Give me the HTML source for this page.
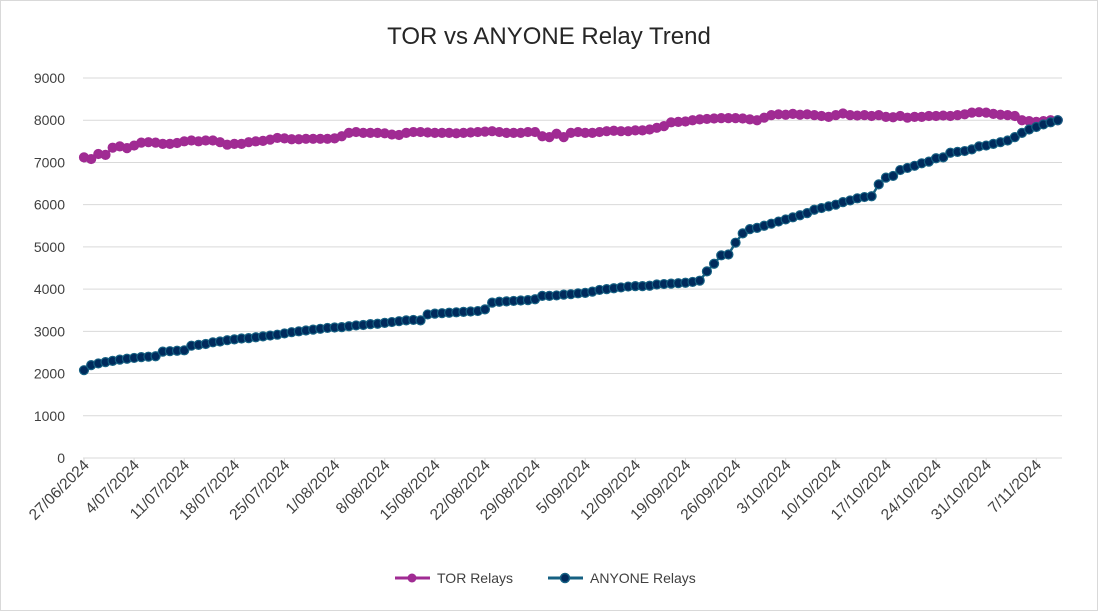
<!DOCTYPE html>
<html><head><meta charset="utf-8"><style>
body{margin:0;background:#fff;font-family:"Liberation Sans",sans-serif}
svg text{font-family:"Liberation Sans",sans-serif;fill:#404040}
</style></head><body>
<svg width="1098" height="611" id="chart">
<rect x="0.5" y="0.5" width="1097" height="610" fill="#fff" stroke="#d9d9d9"/>
<text x="549" y="44" text-anchor="middle" font-size="24" style="fill:#262626">TOR vs ANYONE Relay Trend</text>
<g id="grid"></g><g id="xaxis"></g><g id="series"></g>
<g>
<g><line x1="395" y1="578" x2="430" y2="578" stroke="#A02B93" stroke-width="3"/><circle cx="412" cy="578" r="4.5" fill="#A02B93"/><text x="437" y="583" font-size="14">TOR Relays</text></g>
<g><line x1="548" y1="578" x2="583" y2="578" stroke="#156082" stroke-width="3"/><circle cx="565" cy="578" r="4.5" fill="#002a5c" stroke="#156082" stroke-width="1.5"/><text x="590" y="583" font-size="14">ANYONE Relays</text></g>
</g>
</svg>
<script>
const yTicks=[0,1000,2000,3000,4000,5000,6000,7000,8000,9000];
const xTickLabels=["27/06/2024","4/07/2024","11/07/2024","18/07/2024","25/07/2024","1/08/2024","8/08/2024","15/08/2024","22/08/2024","29/08/2024","5/09/2024","12/09/2024","19/09/2024","26/09/2024","3/10/2024","10/10/2024","17/10/2024","24/10/2024","31/10/2024","7/11/2024"];
const anyone=[2080,2200,2240,2270,2300,2330,2350,2370,2390,2400,
2410,2520,2530,2540,2550,2660,2680,2700,2740,2760,
2790,2810,2830,2840,2860,2880,2900,2920,2950,2980,
3000,3020,3040,3060,3080,3090,3100,3120,3140,3150,
3170,3180,3200,3220,3240,3260,3270,3260,3400,3420,
3430,3440,3450,3460,3470,3480,3520,3680,3700,3710,
3720,3730,3740,3760,3840,3840,3850,3870,3880,3900,
3910,3940,3980,4000,4020,4040,4060,4070,4070,4080,
4110,4120,4130,4140,4150,4170,4200,4420,4600,4800,
4820,5100,5320,5420,5450,5500,5550,5600,5650,5700,
5750,5800,5880,5920,5960,6000,6060,6100,6150,6180,
6200,6480,6640,6680,6820,6870,6920,6980,7020,7100,
7120,7230,7250,7270,7310,7380,7400,7440,7480,7520,
7600,7700,7780,7840,7900,7950,8000];
const tor=[7120,7080,7200,7180,7350,7380,7340,7400,7470,7480,
7470,7440,7440,7460,7500,7520,7500,7520,7520,7480,
7420,7440,7440,7480,7500,7510,7540,7580,7570,7550,
7550,7560,7560,7560,7560,7570,7620,7700,7720,7700,
7700,7700,7690,7660,7650,7700,7720,7720,7710,7700,
7700,7700,7690,7700,7710,7720,7730,7740,7720,7700,
7700,7700,7720,7720,7620,7600,7680,7600,7700,7720,
7700,7700,7720,7740,7750,7740,7740,7760,7760,7780,
7820,7860,7950,7960,7970,8000,8020,8030,8040,8050,
8050,8050,8040,8020,8000,8060,8120,8140,8130,8150,
8130,8140,8120,8100,8080,8120,8160,8120,8110,8120,
8100,8120,8080,8070,8100,8060,8080,8080,8100,8100,
8110,8100,8120,8140,8180,8190,8180,8150,8130,8120,
8100,8000,7980,7960,7980,8000,8000];
const NS="http://www.w3.org/2000/svg";
const y=v=>458-v*(380/9000);
const x=d=>84+d*7.16;
function mk(tag,attrs,parent){const e=document.createElementNS(NS,tag);for(const k in attrs)e.setAttribute(k,attrs[k]);parent.appendChild(e);return e;}
const grid=document.getElementById('grid');
yTicks.forEach(t=>{
  const l=mk('line',{x1:83,x2:1062,y1:y(t),y2:y(t),stroke:'#d9d9d9','stroke-width':1},grid);
  
  
  const tx=mk('text',{x:65,y:y(t)+5,'text-anchor':'end','font-size':14},grid);
  tx.textContent=t;
  
  
});
const xa=document.getElementById('xaxis');
xTickLabels.forEach((s,i)=>{
  const px=x(i*7);
  const tk=mk('line',{x1:px,x2:px,y1:458,y2:463,stroke:'#d9d9d9'},xa);
  
  
  const tx=mk('text',{x:px+6,y:466,'text-anchor':'end','font-size':15.5,transform:`rotate(-45 ${px+6} 466)`},xa);
  tx.textContent=s;
  
  
});
const sg=document.getElementById('series');
function draw(vals,name,lineCol,fill,stroke){
  const g=mk('g',{},sg);
  
  
  const p=mk('polyline',{points:vals.map((v,i)=>x(i)+','+y(v)).join(' '),fill:'none',stroke:lineCol,'stroke-width':2.5},g);
  
  
  vals.forEach((v,i)=>{
    const c=mk('circle',{cx:x(i),cy:y(v),r:4.5,fill:fill,stroke:stroke,'stroke-width':1.2},g);
    
    
  });
}
draw(tor,'tor-relays','#A02B93','#A02B93','#A02B93');
draw(anyone,'anyone-relays','#156082','#002a5c','#156082');
</script>
</body></html>
